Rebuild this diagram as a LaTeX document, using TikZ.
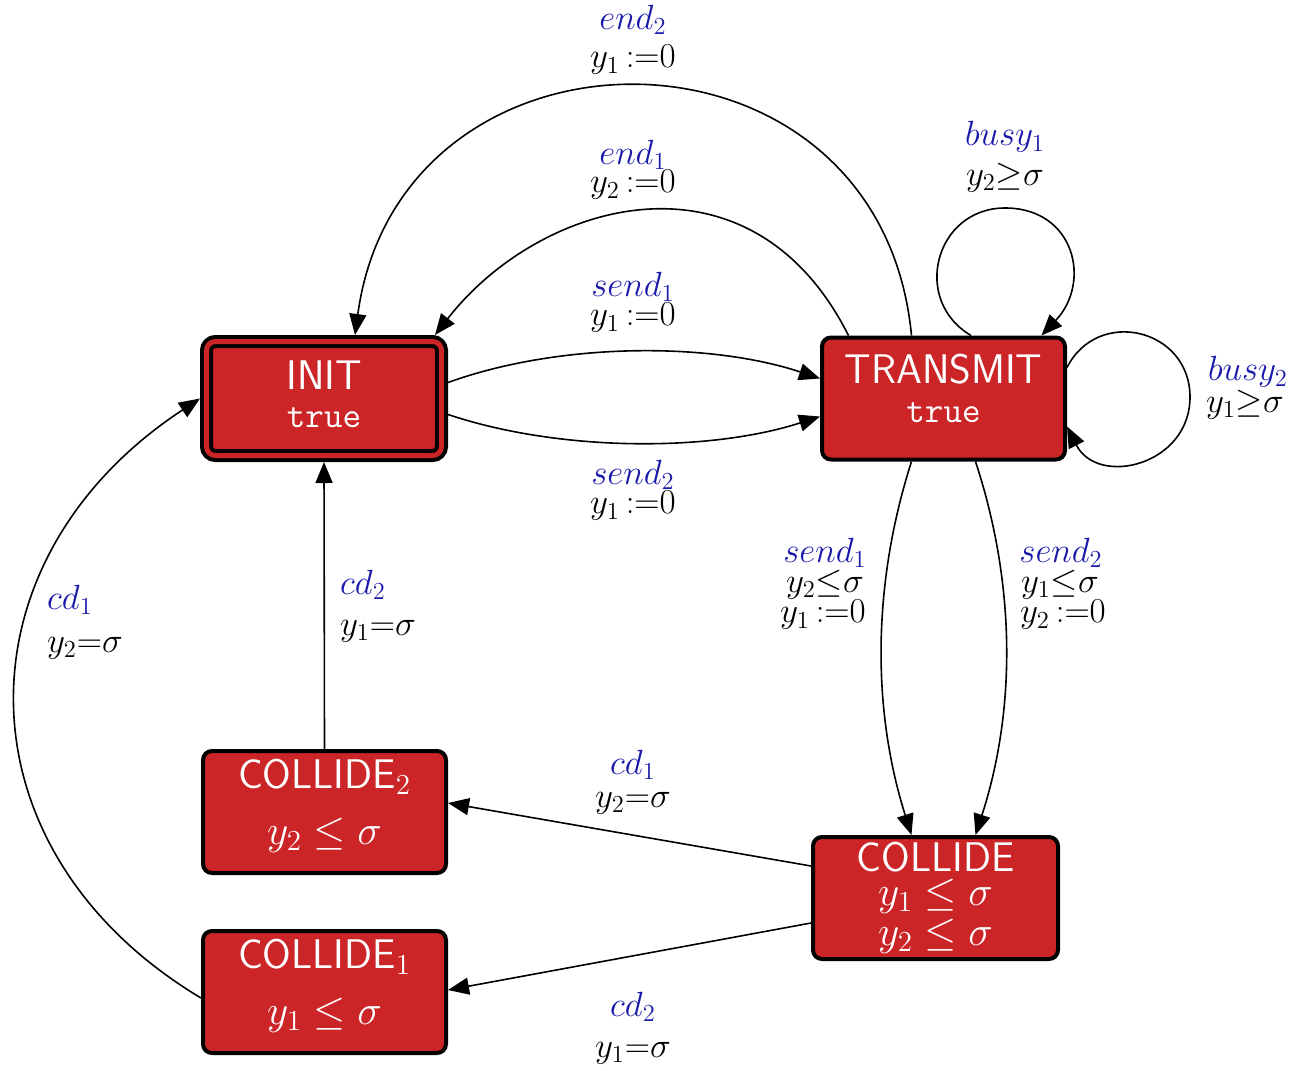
\RequirePackage{fix-cm}
\documentclass[tikz,border=0pt]{standalone}
\usepackage{fontspec}
\usetikzlibrary{arrows.meta,calc}
\definecolor{locred}{RGB}{204,37,39}
\definecolor{evblue}{RGB}{25,25,170}
\tikzset{
  locbox/.style={rectangle, rounded corners=4.5pt, fill=locred, draw=black,
    line width=2pt, outer sep=1pt, inner sep=0pt, text=white, align=center,
    font=\fontsize{20.7}{18.5}\selectfont\sffamily,
    minimum width=121.5pt, minimum height=61pt},
  initbox/.style={locbox, double=locred, double distance=2.5pt, outer sep=3.25pt,
    minimum width=117.5pt, minimum height=57pt},
  conn/.style={draw=black, line width=0.8pt, -{Triangle[length=10.5pt,width=8.5pt]}},
  lbl/.style={font=\fontsize{17.5}{20}\selectfont, inner sep=0pt},
  ev/.style={lbl, text=evblue}
}
\newcommand{\truetxt}{{\fontsize{18}{18}\selectfont\ttfamily true}}
\newcommand{\dropby}[1]{\rule[-#1]{0pt}{#1}}
\newcommand{\assign}[2]{$y_{#1}\mskip3mu{:=}#2$}
\begin{document}
\begin{tikzpicture}[x=0.5pt,y=-0.5pt]
\useasboundingbox (0,0) rectangle (1297,1071);

% locations
\node[initbox] (init) at (324,398.5) {INIT\\[0.5pt]\truetxt\dropby{4pt}};
\node[locbox] (tr) at (943.5,398.5) {TRANSMIT\\[1pt]\truetxt\dropby{10pt}};
\node[locbox] (c2) at (324.5,812) {COLLIDE$_2$\\[9.5pt]$y_2 \leq \sigma$\dropby{10pt}};
\node[locbox] (c1) at (324.5,992) {COLLIDE$_1$\\[9.5pt]$y_1 \leq \sigma$\dropby{10pt}};
\node[locbox, minimum width=122.5pt] (col) at (935.5,898)
  {COLLIDE\\[-1.5pt]$y_1 \leq \sigma$\\[1.5pt]$y_2 \leq \sigma$};

% transitions
\draw[conn] ($(init.east)+(0,-16)$) .. controls (560,342) and (710,342) .. ($(tr.west)+(0,-20)$);
\draw[conn] ($(init.east)+(0,16)$) .. controls (560,452) and (710,452) .. ($(tr.west)+(0,18)$);
\draw[conn] ($(tr.north)+(-95,0)$) .. controls (750,140) and (540,200) .. ($(init.north)+(111,0)$);
\draw[conn] ($(tr.north)+(-32,0)$) .. controls (880,4) and (400,4) .. ($(init.north)+(31,0)$);
% self loops on TRANSMIT
\draw[conn] ($(tr.north)+(27.5,0)$) .. controls (910.8,300) and (935.4,208) .. (1005,208)
  .. controls (1074.6,208) and (1092,282) .. ($(tr.north)+(98,0)$);
\draw[conn] ($(tr.east)+(0,-31)$) .. controls (1097.8,306.6) and (1190,328.6) .. (1190,397)
  .. controls (1190,465.4) and (1097.8,487.4) .. ($(tr.east)+(0,28)$);
\draw[conn] ($(tr.south)+(-32,0)$) .. controls (872,585) and (872,710) .. ($(col.north)+(-24,0)$);
\draw[conn] ($(tr.south)+(32,0)$) .. controls (1016,585) and (1016,710) .. ($(col.north)+(40,0)$);
\draw[conn] ($(col.west)+(0,-32)$) -- ($(c2.east)+(0,-9)$);
\draw[conn] ($(col.west)+(0,25)$) -- ($(c1.east)+(0,-2)$);
\draw[conn] (c2.north) -- (init.south);
\draw[conn] ($(c1.west)+(0,6)$) .. controls (-46,850) and (-46,560) .. (init.west);

% transition labels
\node[ev]  (e-end2)  at (633,20)  {$end_2$};
\node[lbl] (g-end2)  at (633,60)  {\assign{1}{0}};
\node[ev]  (e-end1)  at (633,155) {$end_1$};
\node[lbl] (g-end1)  at (633,185) {\assign{2}{0}};
\node[ev]  (e-snd1)  at (633,287) {$send_1$};
\node[lbl] (g-snd1)  at (633,318) {\assign{1}{0}};
\node[ev]  (e-snd2)  at (633,475) {$send_2$};
\node[lbl] (g-snd2)  at (633,506) {\assign{1}{0}};
\node[ev]  (e-busy1) at (1005,137) {$busy_1$};
\node[lbl] (g-busy1) at (1005,178) {$y_2{\geq}\sigma$};
\node[ev]  (e-busy2) at (1248,372) {$busy_2$};
\node[lbl] (g-busy2) at (1245,405) {$y_1{\geq}\sigma$};
\node[ev]  (e-cs1)   at (825,553) {$send_1$};
\node[lbl] (g-cs1a)  at (825,585) {$y_2{\leq}\sigma$};
\node[lbl] (g-cs1b)  at (823,615) {\assign{1}{0}};
\node[ev]  (e-cs2)   at (1061,553) {$send_2$};
\node[lbl] (g-cs2a)  at (1060,585) {$y_1{\leq}\sigma$};
\node[lbl] (g-cs2b)  at (1063,615) {\assign{2}{0}};
\node[ev]  (e-cd1a)  at (633,765) {$cd_1$};
\node[lbl] (g-cd1a)  at (633,803) {$y_2{=}\sigma$};
\node[ev]  (e-cd2a)  at (633,1007) {$cd_2$};
\node[lbl] (g-cd2a)  at (633,1053) {$y_1{=}\sigma$};
\node[ev]  (e-cd2b)  at (363,585) {$cd_2$};
\node[lbl] (g-cd2b)  at (378,631) {$y_1{=}\sigma$};
\node[ev]  (e-cd1b)  at (70,600) {$cd_1$};
\node[lbl] (g-cd1b)  at (85,648) {$y_2{=}\sigma$};
\end{tikzpicture}
\end{document}
